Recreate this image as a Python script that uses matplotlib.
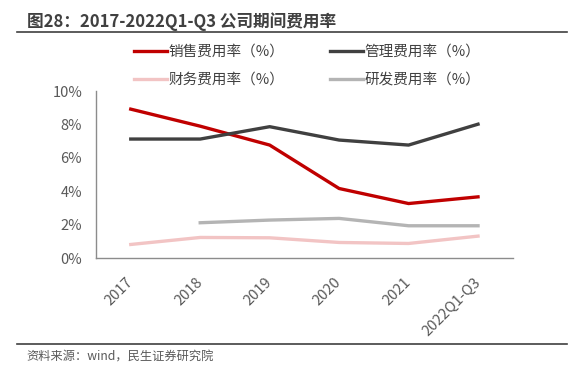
import matplotlib
matplotlib.use("Agg")
import matplotlib.pyplot as plt

plt.rcParams['font.family'] = ['Noto Sans CJK SC', 'DejaVu Sans']

# data (percent)
years = ["2017", "2018", "2019", "2020", "2021", "2022Q1-Q3"]
sales_rate = [8.92, 7.90, 6.77, 4.17, 3.27, 3.67]
admin_rate = [7.13, 7.13, 7.87, 7.07, 6.77, 8.02]
finance_rate = [0.82, 1.24, 1.22, 0.94, 0.88, 1.32]
rd_rate = [None, 2.12, 2.28, 2.38, 1.94, 1.94]

fig = plt.figure(figsize=(5.82, 3.78), dpi=100)
ax = fig.add_axes([0.165, 0.317, 0.716, 0.442])

x = list(range(len(years)))
l_sales, = ax.plot(x, sales_rate, color="#C00000", lw=2.4, label="销售费用率（%）")
l_admin, = ax.plot(x, admin_rate, color="#404040", lw=2.4, label="管理费用率（%）")
l_fin, = ax.plot(x, finance_rate, color="#F2C4C4", lw=2.4, label="财务费用率（%）")
rd_x = [i for i, v in zip(x, rd_rate) if v is not None]
rd_y = [v for v in rd_rate if v is not None]
l_rd, = ax.plot(rd_x, rd_y, color="#B4B4B4", lw=2.4, label="研发费用率（%）")

ax.set_xlim(-0.5, len(years) - 0.5)
ax.set_ylim(0, 10)
ax.set_yticks([0, 2, 4, 6, 8, 10])
ax.set_yticklabels([f"{v}%" for v in [0, 2, 4, 6, 8, 10]])
ax.set_xticks(x)
ax.set_xticklabels(years, rotation=45, ha="right", va="center", rotation_mode="anchor")
ax.tick_params(axis="both", length=0, colors="#595959", labelsize=10.5)
ax.tick_params(axis="x", pad=16)
ax.tick_params(axis="y", pad=10)
for s in ["top", "right"]:
    ax.spines[s].set_visible(False)
for s in ["left", "bottom"]:
    ax.spines[s].set_color("#8C8C8C")
    ax.spines[s].set_linewidth(1.0)

# column-wise fill: sales, finance | admin, rd
leg = fig.legend([l_sales, l_fin, l_admin, l_rd],
                 [l.get_label() for l in [l_sales, l_fin, l_admin, l_rd]],
                 ncol=2, loc="center left", bbox_to_anchor=(134 / 582, 0.826),
                 frameon=False, fontsize=10.5, handlelength=2.25,
                 handletextpad=0.1, columnspacing=3.15, labelspacing=0.95,
                 borderpad=0, borderaxespad=0)
for t in leg.get_texts():
    t.set_color("#404040")

fig.text(0.046, 0.943, "图28：2017-2022Q1-Q3 公司期间费用率", fontsize=12,
         fontweight="bold", color="#404040", va="center")
fig.add_artist(plt.Line2D([0.029, 0.974], [0.916, 0.916], color="#404040", lw=1.2))
fig.add_artist(plt.Line2D([0.029, 0.974], [0.09, 0.09], color="#404040", lw=1.2))
fig.text(0.045, 0.0556, "资料来源：wind，民生证券研究院", fontsize=8.8,
         color="#595959", va="center")

fig.savefig("out.png", dpi=100)
